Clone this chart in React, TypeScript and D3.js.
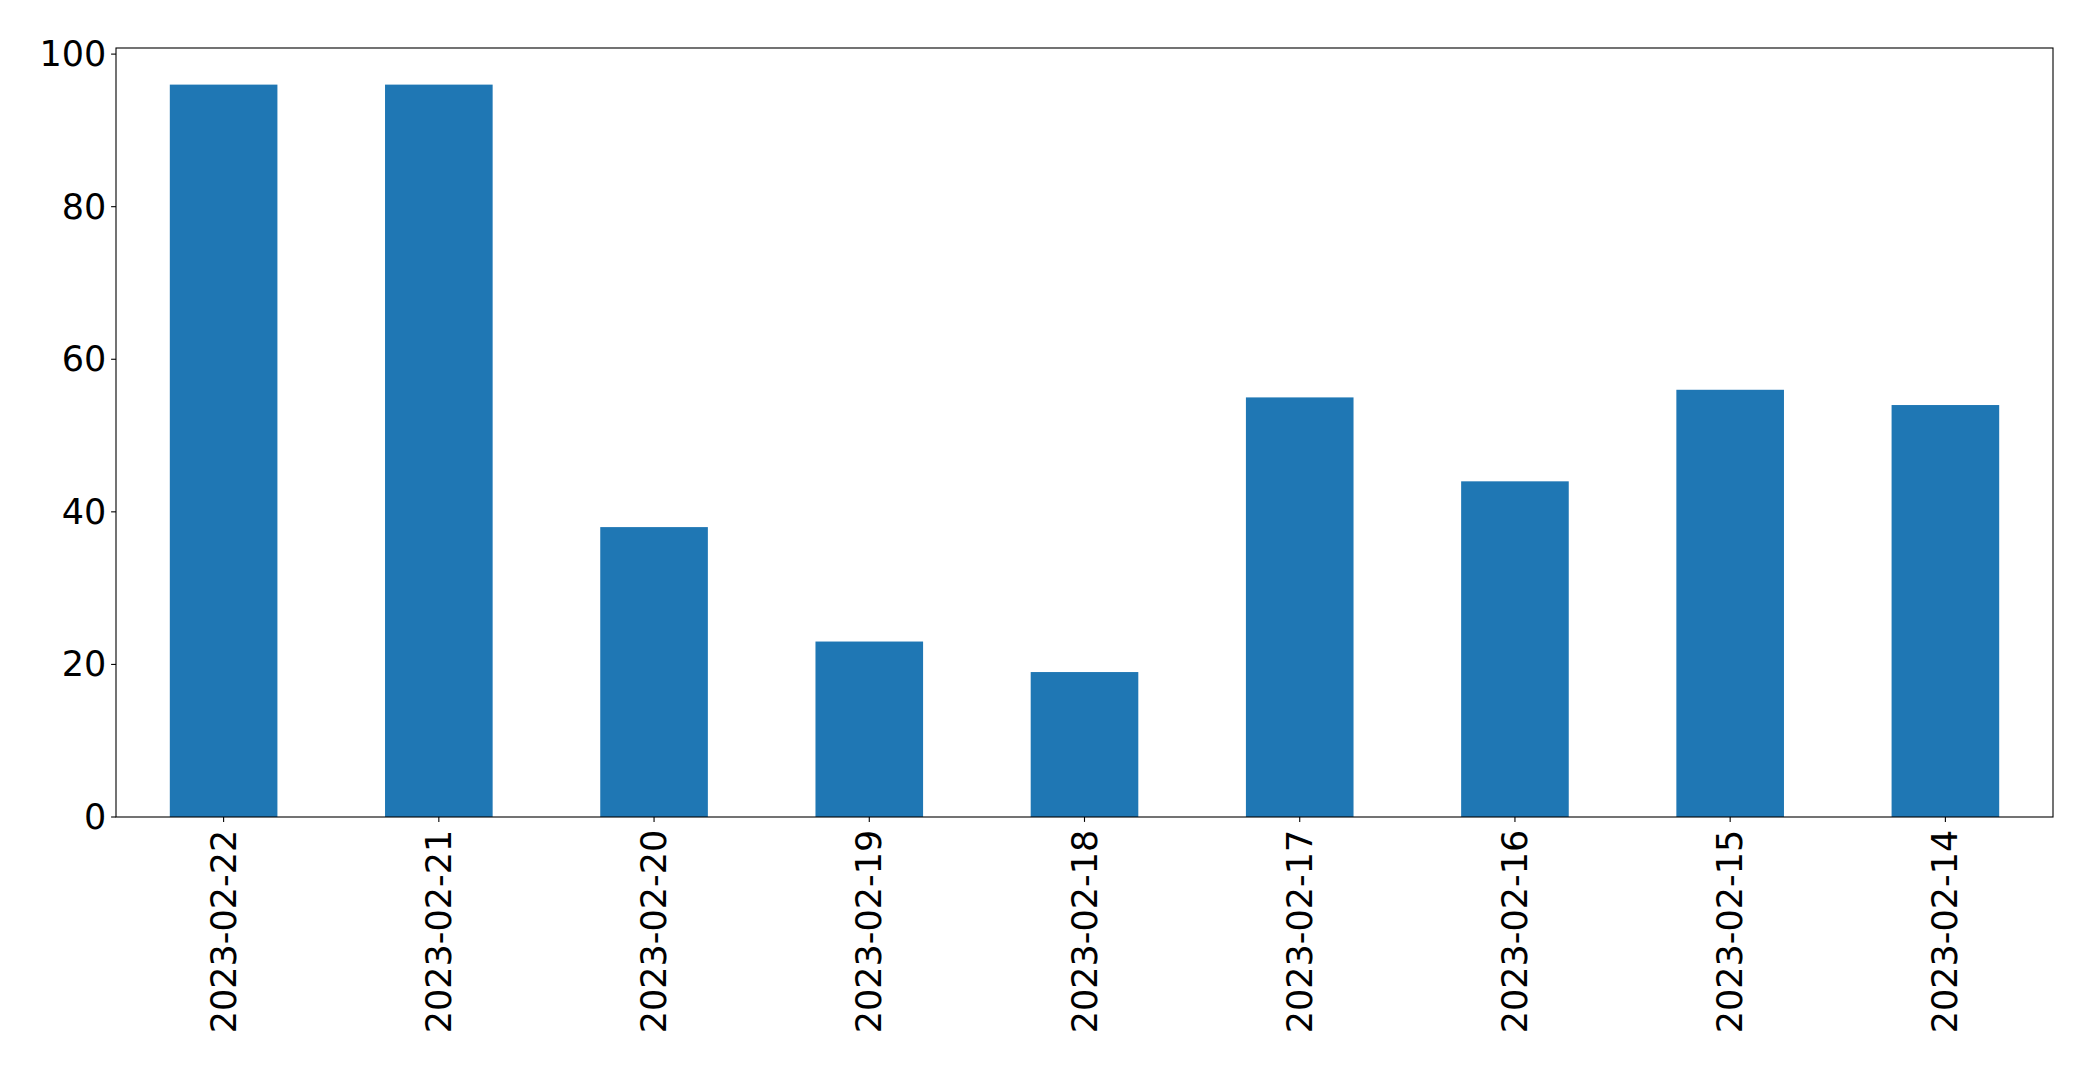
import React from "react";
import * as d3 from "d3";

const categories = [
  "2023-02-22",
  "2023-02-21",
  "2023-02-20",
  "2023-02-19",
  "2023-02-18",
  "2023-02-17",
  "2023-02-16",
  "2023-02-15",
  "2023-02-14",
];
const values = [96, 96, 38, 23, 19, 55, 44, 56, 54];
const yTicks = [0, 20, 40, 60, 80, 100];

const W = 2093;
const H = 1069;
const M = { left: 116, right: 2053, top: 48, bottom: 817 };
const FONT = "DejaVu Sans, sans-serif";
const FS = 35;

export default function App() {
  const x = d3
    .scaleBand<string>()
    .domain(categories)
    .range([M.left, M.right])
    .paddingInner(0.5)
    .paddingOuter(0.25);
  const yMax = d3.max(values)! * 1.05;
  const y = d3.scaleLinear().domain([0, yMax]).range([M.bottom, M.top]);
  const tickLen = 4.9;
  const pad = 4.9;

  return (
    <svg
      width={W}
      height={H}
      style={{ position: "absolute", left: 0, top: 0, background: "#fff" }}
    >
      <rect x={0} y={0} width={W} height={H} fill="#fff" />
      {categories.map((c, i) => (
        <rect
          key={c}
          x={x(c)}
          y={y(values[i])}
          width={x.bandwidth()}
          height={y(0) - y(values[i])}
          fill="#1f77b4"
        />
      ))}
      <rect
        x={M.left}
        y={M.top}
        width={M.right - M.left}
        height={M.bottom - M.top}
        fill="none"
        stroke="#000"
        strokeWidth={1.1}
      />
      {yTicks.map((t) => (
        <g key={t}>
          <line
            x1={M.left - tickLen}
            x2={M.left}
            y1={y(t)}
            y2={y(t)}
            stroke="#000"
            strokeWidth={1.1}
          />
          <text
            x={M.left - tickLen - pad}
            y={y(t)}
            textAnchor="end"
            dominantBaseline="central"
            fontFamily={FONT}
            fontSize={FS}
            fill="#000"
          >
            {t}
          </text>
        </g>
      ))}
      {categories.map((c) => {
        const cx = x(c)! + x.bandwidth() / 2;
        const ty = M.bottom + tickLen + pad + 3;
        return (
          <g key={c}>
            <line
              x1={cx}
              x2={cx}
              y1={M.bottom}
              y2={M.bottom + tickLen}
              stroke="#000"
              strokeWidth={1.1}
            />
            <text
              transform={`translate(${cx},${ty}) rotate(-90)`}
              textAnchor="end"
              dominantBaseline="central"
              fontFamily={FONT}
              fontSize={FS}
              fill="#000"
            >
              {c}
            </text>
          </g>
        );
      })}
    </svg>
  );
}
